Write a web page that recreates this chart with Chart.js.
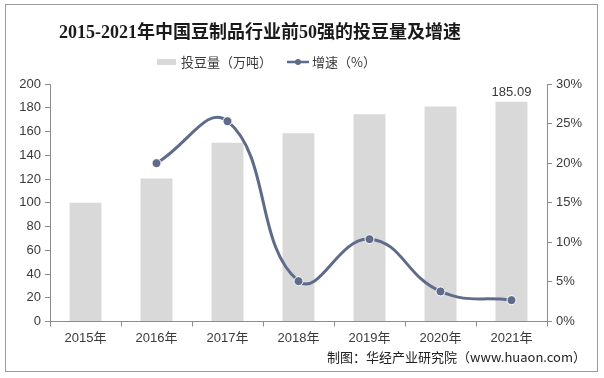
<!DOCTYPE html>
<html>
<head>
<meta charset="utf-8">
<script src="https://cdn.jsdelivr.net/npm/chart.js@4.4.0/dist/chart.umd.min.js"></script>
<style>
  html, body { margin: 0; padding: 0; background: #fff; }
  #wrap { width: 604px; height: 378px; position: relative; }
</style>
</head>
<body>
<div id="wrap"><canvas id="myChart" width="604" height="378"></canvas></div>
<script>
const titulo = '2015-2021年中国豆制品行业前50强的投豆量及增速';
const fonte = '制图：华经产业研究院（www.huaon.com）';
const anos = ['2015年', '2016年', '2017年', '2018年', '2019年', '2020年', '2021年'];
const touDouLiang = [100, 120.5, 150.5, 158.5, 174.5, 181, 185.09];
const zengSu = [null, 20.0, 25.3, 5.1, 10.4, 3.8, 2.7];
const rotuloBarra = '投豆量（万吨）';
const rotuloLinha = '增速（%）';

const corBarra = '#d9d9d9';
const corLinha = '#5f6b8b';
const corTexto = '#3a3a3a';
const corEixo = '#8c8c8c';
const fonteBase = "'Liberation Sans', Arial, 'Noto Sans CJK SC', sans-serif";

// desenha moldura, titulo, legenda, rotulo e fonte
const extras = {
  id: 'extras',
  afterDraw(chart) {
    const ctx = chart.ctx;
    ctx.save();
    // moldura
    ctx.strokeStyle = '#9a9a9a';
    ctx.lineWidth = 1;
    ctx.strokeRect(5.5, 4.5, 592, 367);

    // titulo
    ctx.fillStyle = '#1a1a1a';
    ctx.font = "bold 18px 'Liberation Serif', 'Noto Sans CJK SC', serif";
    ctx.textAlign = 'center';
    ctx.textBaseline = 'middle';
    ctx.fillText(titulo, 260, 33);

    // legenda
    ctx.font = "13px 'Noto Sans CJK SC', sans-serif";
    ctx.textAlign = 'left';
    ctx.fillStyle = corBarra;
    ctx.fillRect(157, 59, 19, 6);
    ctx.fillStyle = corTexto;
    ctx.fillText(rotuloBarra, 181, 62);
    ctx.strokeStyle = corLinha;
    ctx.lineWidth = 2.5;
    ctx.beginPath();
    ctx.moveTo(287, 62);
    ctx.lineTo(309, 62);
    ctx.stroke();
    ctx.fillStyle = corLinha;
    ctx.beginPath();
    ctx.arc(298, 62, 3, 0, Math.PI * 2);
    ctx.fill();
    ctx.fillStyle = corTexto;
    ctx.fillText(rotuloLinha, 312, 62);

    // rotulo da ultima barra
    const meta = chart.getDatasetMeta(1);
    const ultima = meta.data[meta.data.length - 1];
    ctx.font = '13px ' + fonteBase;
    ctx.textAlign = 'center';
    ctx.textBaseline = 'bottom';
    ctx.fillStyle = corTexto;
    ctx.fillText(touDouLiang[touDouLiang.length - 1].toFixed(2), ultima.x, ultima.y - 3);

    // fonte
    ctx.font = "13px 'Noto Sans CJK SC', sans-serif";
    ctx.textAlign = 'right';
    ctx.textBaseline = 'middle';
    ctx.fillStyle = '#222';
    ctx.fillText(fonte, 586, 357);
    ctx.restore();
  }
};

const ctx = document.getElementById('myChart').getContext('2d');
new Chart(ctx, {
  data: {
    labels: anos,
    datasets: [
      {
        type: 'line',
        label: rotuloLinha,
        data: zengSu,
        yAxisID: 'y1',
        borderColor: corLinha,
        borderWidth: 3,
        backgroundColor: corLinha,
        pointBackgroundColor: corLinha,
        pointBorderColor: '#fff',
        pointBorderWidth: 1,
        pointRadius: 4.5,
        tension: 0.45,
        order: 0
      },
      {
        type: 'bar',
        label: rotuloBarra,
        data: touDouLiang,
        yAxisID: 'y',
        backgroundColor: corBarra,
        categoryPercentage: 1,
        barPercentage: 0.45,
        order: 1
      }
    ]
  },
  options: {
    responsive: false,
    animation: false,
    layout: { padding: { top: 84, left: 0, right: 0, bottom: 0 } },
    plugins: {
      legend: { display: false },
      title: { display: false },
      tooltip: { enabled: false }
    },
    scales: {
      x: {
        grid: { drawOnChartArea: false, color: corEixo, tickLength: 5, offset: true },
        border: { color: corEixo },
        ticks: { color: corTexto, font: { size: 13, family: fonteBase }, padding: 4 },
        afterFit(scale) { scale.height = 56.5; }
      },
      y: {
        position: 'left',
        min: 0, max: 200,
        grid: { drawOnChartArea: false, color: corEixo, tickLength: 5 },
        border: { color: corEixo },
        ticks: { stepSize: 20, color: corTexto, font: { size: 13, family: fonteBase }, padding: 4 },
        afterFit(scale) { scale.width = 50; }
      },
      y1: {
        position: 'right',
        min: 0, max: 30,
        grid: { drawOnChartArea: false, color: corEixo, tickLength: 5 },
        border: { color: corEixo },
        ticks: {
          stepSize: 5, color: corTexto, font: { size: 13, family: fonteBase }, padding: 4,
          callback: v => v + '%'
        },
        afterFit(scale) { scale.width = 57; }
      }
    }
  },
  plugins: [extras]
});
</script>
</body>
</html>
